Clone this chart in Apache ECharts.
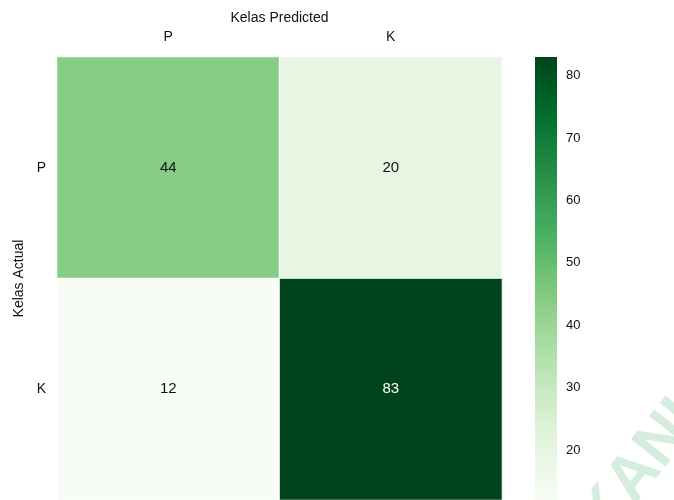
<!DOCTYPE html>
<html>
<head>
<meta charset="utf-8">
<script src="https://cdn.jsdelivr.net/npm/echarts@6/dist/echarts.min.js"></script>
<style>html,body{margin:0;padding:0;background:#fff}#c{width:674px;height:500px}</style>
</head>
<body>
<div id="c"></div>
<script>
var predictedCats = ['P', 'K'];
var actualCats = ['P', 'K'];
// [predictedIndex, actualIndex, value]
var matrix = [[0, 0, 44], [1, 0, 20], [0, 1, 12], [1, 1, 83]];
var colorbarTicks = [20, 30, 40, 50, 60, 70, 80];
var vMin = 12, vMax = 83;
var greens = ['#f7fcf5', '#e5f5e0', '#c7e9c0', '#a1d99b', '#74c476', '#41ab5d', '#238b45', '#006d2c', '#00441b'];

var chart = echarts.init(document.getElementById('c'), null, {renderer: 'canvas'});
var font = 'Liberation Sans, Arial, sans-serif';
var data = matrix.map(function (d) {
  return {value: d, label: {color: d[2] > 60 ? '#fff' : '#111'}};
});
chart.setOption({
  animation: false,
  backgroundColor: '#fff',
  textStyle: {fontFamily: font},
  grid: [
    {left: 57, top: 57, width: 445, height: 444},
    {left: 535, top: 57, width: 22, height: 447}
  ],
  xAxis: [
    {type: 'category', data: predictedCats, position: 'top', gridIndex: 0,
     name: 'Kelas Predicted', nameLocation: 'middle', nameGap: 28,
     nameTextStyle: {color: '#111', fontSize: 14, fontFamily: font},
     axisLine: {show: false}, axisTick: {show: false}, splitLine: {show: false},
     axisLabel: {color: '#111', fontSize: 14, margin: 13, fontFamily: font}},
    {type: 'value', gridIndex: 1, min: 0, max: 1, show: false}
  ],
  yAxis: [
    {type: 'category', data: actualCats, inverse: true, gridIndex: 0,
     name: 'Kelas Actual', nameLocation: 'middle', nameGap: 26, nameRotate: 90,
     nameTextStyle: {color: '#111', fontSize: 14, fontFamily: font},
     axisLine: {show: false}, axisTick: {show: false}, splitLine: {show: false},
     axisLabel: {color: '#111', fontSize: 14, margin: 11, fontFamily: font}},
    {type: 'value', gridIndex: 1, min: vMin, max: vMax, position: 'right',
     axisLine: {show: false}, axisTick: {show: false}, splitLine: {show: false},
     axisLabel: {color: '#111', fontSize: 13, margin: 9, fontFamily: font, customValues: colorbarTicks}}
  ],
  visualMap: {
    type: 'continuous', min: vMin, max: vMax, seriesIndex: 0, show: false,
    inRange: {color: greens}
  },
  series: [{
    type: 'heatmap', xAxisIndex: 0, yAxisIndex: 0, data: data,
    itemStyle: {borderColor: '#fff', borderWidth: 1},
    label: {show: true, fontSize: 15, fontFamily: font,
      formatter: function (p) { return p.value[2]; }},
    emphasis: {disabled: true}
  }, {
    type: 'custom', xAxisIndex: 1, yAxisIndex: 1, silent: true,
    data: [[0, vMin, 1, vMax]],
    renderItem: function (params, api) {
      var p0 = api.coord([api.value(0), api.value(3)]);
      var p1 = api.coord([api.value(2), api.value(1)]);
      return {
        type: 'rect',
        shape: {x: p0[0], y: p0[1], width: p1[0] - p0[0], height: p1[1] - p0[1]},
        style: {fill: new echarts.graphic.LinearGradient(0, 0, 0, 1,
          greens.slice().reverse().map(function (c, i) { return {offset: i / (greens.length - 1), color: c}; }))}
      };
    }
  }],
  graphic: [{
    type: 'text', x: 640, y: 470, rotation: 0.9,
    style: {text: 'KANI', font: 'bold 64px ' + font, fill: 'rgba(160,215,185,0.45)', textAlign: 'center', textVerticalAlign: 'middle'}
  }]
});
</script>
</body>
</html>
